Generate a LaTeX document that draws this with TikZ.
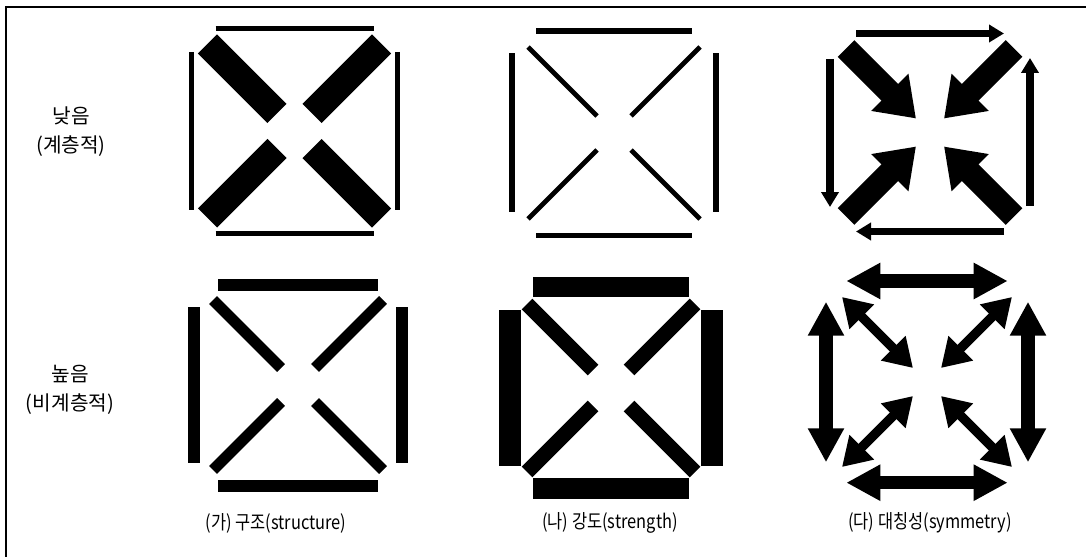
\documentclass[tikz,border=0pt]{standalone}
\usepackage{fontspec}
\setmainfont{Noto Sans CJK KR}
\newfontfamily\capfont[FakeStretch=0.85]{Noto Sans CJK KR}
\usetikzlibrary{arrows.meta}

\begin{document}
\begin{tikzpicture}[x=0.02cm, y=-0.02cm, line cap=butt,
    rowlabel/.style={align=center, font=\fontsize{11.5}{16.5}\selectfont},
    caption/.style={font=\capfont\fontsize{11}{12}\selectfont},
    tipS/.style={-{Triangle[length=0.30cm, width=0.34cm]}},
    tipL/.style={-{Triangle[length=0.74cm, width=1.00cm]}},
    tipD/.style={{Triangle[length=0.68cm, width=0.68cm]}-{Triangle[length=0.68cm, width=0.68cm]}},
    tipd/.style={{Triangle[length=0.56cm, width=0.66cm]}-{Triangle[length=0.56cm, width=0.66cm]}}]
    \useasboundingbox (0,0) rectangle (1086,557);
    % frame
    \draw[line width=1.2pt] (1086,7) -- (6,7) -- (6,557);

    % row labels
    \node[rowlabel] (low) at (71,132) {낮음\\(계층적)};
    \node[rowlabel] (high) at (70,390) {높음\\(비계층적)};

    % (가) low: thin frame, thick cross
    \begin{scope}[shift={(294.5,131)}]
        \draw[line width=0.10cm] (-79,-102.5) -- (79,-102.5) (-79,102.7) -- (79,102.7);
        \draw[line width=0.10cm] (-103,-79) -- (-103,79) (103,-79) -- (103,79);
        \foreach \sx/\sy in {-1/-1,1/-1,-1/1,1/1}
            \draw[line width=0.54cm] (\sx*17.5,\sy*17.5) -- (\sx*87,\sy*87);
    \end{scope}

    % (나) low: thin frame, thin cross
    \begin{scope}[shift={(614,133)}]
        \draw[line width=0.11cm] (-78,-102) -- (78,-102) (-78,102.3) -- (78,102.3);
        \draw[line width=0.11cm] (-102,-79.5) -- (-102,79.5) (102,-79.5) -- (102,79.5);
        \foreach \sx/\sy in {-1/-1,1/-1,-1/1,1/1}
            \draw[line width=0.095cm] (\sx*17,\sy*17) -- (\sx*86,\sy*86);
    \end{scope}

    % (다) low: flow round the frame, arrows to the middle
    \begin{scope}[shift={(930,132.5)}]
        \draw[line width=0.145cm, tipS] (-74,-99) -- (74,-99);
        \draw[line width=0.145cm, tipS] (100,73.5) -- (100,-74.5);
        \draw[line width=0.145cm, tipS] (74,99) -- (-74,99);
        \draw[line width=0.145cm, tipS] (-100,-73.5) -- (-100,74.5);
        \foreach \sx/\sy in {-1/-1,1/-1,-1/1,1/1}
            \draw[line width=0.47cm, tipL] (\sx*84,\sy*84) -- (\sx*14,\sy*14);
    \end{scope}

    % (가) high
    \begin{scope}[shift={(298,385)}]
        \draw[line width=0.24cm] (-80,-100) -- (80,-100) (-80,101) -- (80,101);
        \draw[line width=0.25cm] (-104,-77.5) -- (-104,77.5) (104,-77.5) -- (104,77.5);
        \foreach \sx/\sy in {-1/-1,1/-1,-1/1,1/1}
            \draw[line width=0.22cm] (\sx*17,\sy*17) -- (\sx*85,\sy*85);
    \end{scope}

    % (나) high
    \begin{scope}[shift={(611,388)}]
        \draw[line width=0.42cm] (-78,-101) -- (78,-101) (-78,100.5) -- (78,100.5);
        \draw[line width=0.43cm] (-101,-77.5) -- (-101,77.5) (101,-77.5) -- (101,77.5);
        \foreach \sx/\sy in {-1/-1,1/-1,-1/1,1/1}
            \draw[line width=0.30cm] (\sx*18,\sy*18) -- (\sx*84,\sy*84);
    \end{scope}

    % (다) high
    \begin{scope}[shift={(927,382)}]
        \draw[line width=0.27cm, tipD] (-80.7,-101) -- (80.7,-101);
        \draw[line width=0.27cm, tipD] (-80.7,100.7) -- (80.7,100.7);
        \draw[line width=0.27cm, tipD] (-101,-80.3) -- (-101,80.3);
        \draw[line width=0.27cm, tipD] (101,-80.3) -- (101,80.3);
        \foreach \sx/\sy in {-1/-1,1/-1,-1/1,1/1}
            \draw[line width=0.19cm, tipd] (\sx*85,\sy*85) -- (\sx*14,\sy*14);
    \end{scope}

    % captions
    \node[caption] (capA) at (276,523) {(가) 구조(structure)};
    \node[caption] (capB) at (610,523) {(나) 강도(strength)};
    \node[caption] (capC) at (930,523) {(다) 대칭성(symmetry)};
\end{tikzpicture}
\end{document}
